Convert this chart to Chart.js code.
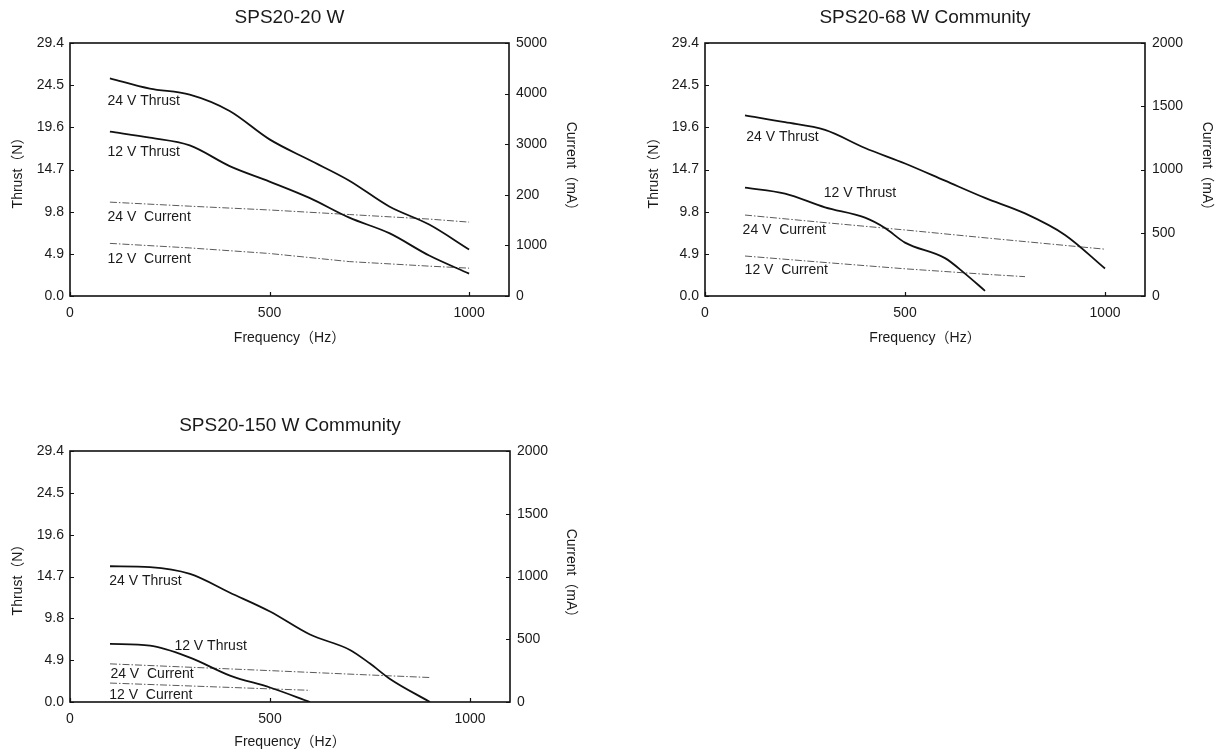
<!DOCTYPE html>
<html>
<head>
<meta charset="utf-8">
<title>SPS20 Thrust / Current</title>
<script src="https://cdn.jsdelivr.net/npm/chart.js@4/dist/chart.umd.min.js"></script>
<style>
  html, body { margin: 0; padding: 0; background: #fff; }
  body { width: 1221px; height: 756px; position: relative; overflow: hidden; }
  canvas { position: absolute; }
</style>
</head>
<body>
<canvas id="chart1" width="610" height="360" style="left:0;top:0"></canvas>
<canvas id="chart2" width="601" height="360" style="left:620px;top:0"></canvas>
<canvas id="chart3" width="610" height="356" style="left:0;top:400px"></canvas>
<script>
// 坐标轴刻度
const freqTicks = [0, 500, 1000];
const thrustTicks = [0, 4.9, 9.8, 14.7, 19.6, 24.5, 29.4];
const current5000Ticks = [0, 1000, 2000, 3000, 4000, 5000];
const current5000Labels = ['0', '1000', '200', '3000', '4000', '5000'];
const current2000Ticks = [0, 500, 1000, 1500, 2000];

// SPS20-20 W
const c1ThrustFreq = [100, 200, 300, 400, 500, 600, 700, 800, 900, 1000];
const c1Thrust24 = [25.3, 24.1, 23.4, 21.5, 18.2, 15.8, 13.4, 10.4, 8.3, 5.4];
const c1Thrust12 = [19.1, 18.4, 17.5, 15.1, 13.3, 11.4, 9.1, 7.3, 4.7, 2.6];
const c1CurrentFreq = [100, 300, 500, 700, 900, 1000];
const c1Current24 = [1855, 1775, 1700, 1610, 1520, 1460];
const c1Current12 = [1040, 950, 840, 680, 590, 550];

// SPS20-68 W Community
const c2Freq24 = [100, 200, 300, 400, 500, 600, 700, 800, 900, 1000];
const c2Thrust24 = [21.0, 20.2, 19.3, 17.2, 15.4, 13.4, 11.4, 9.6, 7.1, 3.2];
const c2Freq12 = [100, 200, 300, 400, 450, 500, 600, 650, 700];
const c2Thrust12 = [12.6, 11.9, 10.3, 9.1, 7.9, 6.2, 4.4, 2.6, 0.6];
const c2CurFreq24 = [100, 300, 500, 700, 900, 1000];
const c2Current24 = [640, 580, 522, 460, 400, 370];
const c2CurFreq12 = [100, 300, 500, 700, 800];
const c2Current12 = [316, 265, 215, 172, 153];

// SPS20-150 W Community
const c3Freq24 = [100, 200, 300, 400, 500, 600, 700, 750, 800, 900];
const c3Thrust24 = [15.9, 15.8, 15.0, 12.8, 10.6, 7.9, 6.1, 4.5, 2.7, 0];
const c3Freq12 = [100, 200, 300, 400, 500, 600];
const c3Thrust12 = [6.8, 6.6, 5.2, 3.1, 1.7, 0];
const c3CurFreq24 = [100, 300, 500, 700, 900];
const c3Current24 = [304, 277, 250, 222, 195];
const c3CurFreq12 = [100, 350, 600];
const c3Current12 = [151, 122, 93];

const FONT = '"Liberation Sans", Arial, "Noto Sans CJK JP", sans-serif';
const TEXT = '#1a1a1a';

function pts(xs, ys) {
    return xs.map((x, i) => ({ x: x, y: ys[i] }));
}

function thrustLine(xs, ys) {
    return {
        data: pts(xs, ys),
        yAxisID: 'y',
        borderColor: '#111',
        borderWidth: 1.8,
        pointRadius: 0,
        cubicInterpolationMode: 'monotone',
        fill: false
    };
}

function currentLine(xs, ys) {
    return {
        data: pts(xs, ys),
        yAxisID: 'y1',
        borderColor: '#5a5a5a',
        borderWidth: 1,
        borderDash: [7, 2, 1.5, 2],
        pointRadius: 0,
        fill: false
    };
}

// 边框、内刻度、标题和曲线标注
const decorPlugin = {
    id: 'decor',
    afterDraw(chart, args, opts) {
        const { ctx, chartArea: a, scales } = chart;
        ctx.save();
        ctx.strokeStyle = '#111';
        ctx.lineWidth = 1.6;
        ctx.strokeRect(a.left, a.top, a.right - a.left, a.bottom - a.top);

        ctx.lineWidth = 1.2;
        ctx.beginPath();
        scales.x.ticks.forEach(t => {
            const px = Math.round(scales.x.getPixelForValue(t.value)) + 0.5;
            ctx.moveTo(px, a.bottom);
            ctx.lineTo(px, a.bottom - 4);
        });
        scales.y.ticks.forEach(t => {
            const py = Math.round(scales.y.getPixelForValue(t.value)) + 0.5;
            ctx.moveTo(a.left, py);
            ctx.lineTo(a.left + 4, py);
        });
        scales.y1.ticks.forEach(t => {
            const py = Math.round(scales.y1.getPixelForValue(t.value)) + 0.5;
            ctx.moveTo(a.right, py);
            ctx.lineTo(a.right - 4, py);
        });
        ctx.stroke();

        ctx.fillStyle = TEXT;
        ctx.textBaseline = 'middle';
        ctx.textAlign = 'center';
        ctx.font = '19px ' + FONT;
        ctx.fillText(opts.title, (a.left + a.right) / 2, a.top - 25);

        ctx.textAlign = 'left';
        ctx.font = '14px ' + FONT;
        opts.labels.forEach(l => {
            ctx.fillText(l.text, scales.x.getPixelForValue(l.f), scales.y.getPixelForValue(l.t));
        });
        ctx.restore();
    }
};

function makeChart(id, cfg) {
    const tickFont = { family: FONT, size: 14 };
    const titleFont = { family: FONT, size: 14 };
    return new Chart(document.getElementById(id), {
        type: 'line',
        data: { datasets: cfg.datasets },
        options: {
            responsive: false,
            animation: false,
            devicePixelRatio: 1,
            layout: { padding: { top: cfg.top, left: 0, right: 0, bottom: 0 } },
            plugins: {
                legend: { display: false },
                tooltip: { enabled: false },
                decor: { title: cfg.title, labels: cfg.labels }
            },
            scales: {
                x: {
                    type: 'linear',
                    min: 0,
                    max: 1100,
                    afterBuildTicks: s => { s.ticks = freqTicks.map(v => ({ value: v })); },
                    afterFit: s => { s.height = cfg.xHeight; },
                    grid: { display: false, drawTicks: false },
                    border: { display: false },
                    ticks: {
                        padding: 9, color: TEXT, font: tickFont, maxRotation: 0, autoSkip: false,
                        callback: v => String(v)
                    },
                    title: {
                        display: true, text: 'Frequency（Hz）', color: TEXT, font: titleFont,
                        padding: { top: 0, bottom: cfg.xTitlePad }
                    }
                },
                y: {
                    type: 'linear',
                    position: 'left',
                    min: 0,
                    max: 29.4,
                    afterBuildTicks: s => { s.ticks = thrustTicks.map(v => ({ value: v })); },
                    afterFit: s => { s.width = cfg.yWidth; },
                    grid: { display: false, drawTicks: false },
                    border: { display: false },
                    ticks: { padding: 6, color: TEXT, font: tickFont, callback: v => v.toFixed(1) },
                    title: {
                        display: true, text: 'Thrust（N）', color: TEXT, font: titleFont,
                        padding: { top: cfg.yTitlePad, bottom: 0 }
                    }
                },
                y1: {
                    type: 'linear',
                    position: 'right',
                    min: 0,
                    max: cfg.curTicks[cfg.curTicks.length - 1],
                    afterBuildTicks: s => { s.ticks = cfg.curTicks.map(v => ({ value: v })); },
                    afterFit: s => { s.width = cfg.y1Width; },
                    grid: { display: false, drawTicks: false },
                    border: { display: false },
                    ticks: { padding: 7, color: TEXT, font: tickFont, callback: (v, i) => cfg.curLabels[i] },
                    title: {
                        display: true, text: 'Current（mA）', color: TEXT, font: titleFont,
                        padding: { top: cfg.y1TitlePad, bottom: 0 }
                    }
                }
            }
        },
        plugins: [decorPlugin]
    });
}

makeChart('chart1', {
    title: 'SPS20-20 W',
    top: 43, xHeight: 64, yWidth: 70, y1Width: 101,
    xTitlePad: 13, yTitlePad: 10, y1TitlePad: 31,
    curTicks: current5000Ticks, curLabels: current5000Labels,
    datasets: [
        thrustLine(c1ThrustFreq, c1Thrust24),
        thrustLine(c1ThrustFreq, c1Thrust12),
        currentLine(c1CurrentFreq, c1Current24),
        currentLine(c1CurrentFreq, c1Current12)
    ],
    labels: [
        { text: '24 V Thrust', f: 94, t: 22.7 },
        { text: '12 V Thrust', f: 94, t: 16.7 },
        { text: '24 V  Current', f: 94, t: 9.2 },
        { text: '12 V  Current', f: 94, t: 4.3 }
    ]
});

makeChart('chart2', {
    title: 'SPS20-68 W Community',
    top: 43, xHeight: 64, yWidth: 85, y1Width: 76,
    xTitlePad: 13, yTitlePad: 26, y1TitlePad: 6,
    curTicks: current2000Ticks, curLabels: current2000Ticks.map(String),
    datasets: [
        thrustLine(c2Freq24, c2Thrust24),
        thrustLine(c2Freq12, c2Thrust12),
        currentLine(c2CurFreq24, c2Current24),
        currentLine(c2CurFreq12, c2Current12)
    ],
    labels: [
        { text: '24 V Thrust', f: 103, t: 18.5 },
        { text: '12 V Thrust', f: 297, t: 11.9 },
        { text: '24 V  Current', f: 94, t: 7.6 },
        { text: '12 V  Current', f: 99, t: 3.0 }
    ]
});

makeChart('chart3', {
    title: 'SPS20-150 W Community',
    top: 51, xHeight: 54, yWidth: 70, y1Width: 100,
    xTitlePad: 5, yTitlePad: 10, y1TitlePad: 31,
    curTicks: current2000Ticks, curLabels: current2000Ticks.map(String),
    datasets: [
        thrustLine(c3Freq24, c3Thrust24),
        thrustLine(c3Freq12, c3Thrust12),
        currentLine(c3CurFreq24, c3Current24),
        currentLine(c3CurFreq12, c3Current12)
    ],
    labels: [
        { text: '24 V Thrust', f: 98, t: 14.1 },
        { text: '12 V Thrust', f: 261, t: 6.5 },
        { text: '24 V  Current', f: 101, t: 3.3 },
        { text: '12 V  Current', f: 98, t: 0.85 }
    ]
});
</script>
</body>
</html>
